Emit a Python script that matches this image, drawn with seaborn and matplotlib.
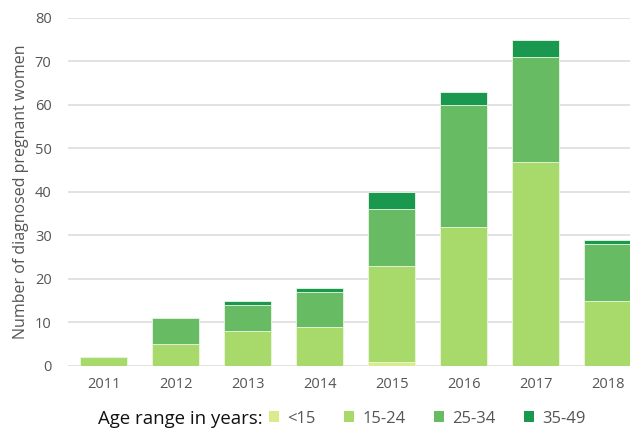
import numpy as np
import pandas as pd
import matplotlib
matplotlib.use("Agg")
import matplotlib.pyplot as plt
from matplotlib.patches import Patch
import seaborn as sns

years = ["2011", "2012", "2013", "2014", "2015", "2016", "2017", "2018"]
age_groups = ["<15", "15-24", "25-34", "35-49"]
under_15 = [0, 0, 0, 0, 1, 0, 0, 0]
age_15_24 = [2, 5, 8, 9, 22, 32, 47, 15]
age_25_34 = [0, 6, 6, 8, 13, 28, 24, 13]
age_35_49 = [0, 0, 1, 1, 4, 3, 4, 1]
colors = ["#d9ec8c", "#a8d96b", "#66bb63", "#1a9850"]

df = pd.DataFrame({"Year": years, "<15": under_15, "15-24": age_15_24,
                   "25-34": age_25_34, "35-49": age_35_49})
cum = df[age_groups].cumsum(axis=1)

sns.set_theme(style="white")
plt.rcParams["font.family"] = ["Open Sans", "DejaVu Sans"]

fig, ax = plt.subplots(figsize=(6.32, 4.28), dpi=100)
fig.subplots_adjust(left=0.108, right=0.997, top=0.958, bottom=0.145)

# stacked bars: draw cumulative totals from the top group down
for grp, col in reversed(list(zip(age_groups, colors))):
    sns.barplot(x=df["Year"], y=cum[grp], color=col, width=0.65, saturation=1,
                edgecolor="#eef6e6", linewidth=0.6, ax=ax, zorder=3)

ax.set_ylim(0, 80)
ax.set_yticks(range(0, 81, 10))
ax.set_xlim(-0.49, 7.31)
ax.grid(axis="y", color="#dddddd", linewidth=1.2, zorder=0)
ax.set_axisbelow(True)
sns.despine(ax=ax, left=True, bottom=True)
ax.tick_params(axis="both", length=0, labelsize=10.5, labelcolor="#555555")
ax.tick_params(axis="x", pad=8)
ax.tick_params(axis="y", pad=12)
ax.set_xlabel("")
ax.set_ylabel("Number of diagnosed pregnant women", fontsize=11.5,
              color="#555555", labelpad=4)

fig.text(0.155, 0.02, "Age range in years:", fontsize=13.4, color="#111111",
         ha="left", va="center")
handles = [Patch(facecolor=c, edgecolor="none") for c in colors]
fig.legend(handles, age_groups, loc="center left", bbox_to_anchor=(0.402, 0.022),
           ncol=4, frameon=False, fontsize=12, handlelength=0.6, handleheight=0.6,
           handletextpad=0.5, columnspacing=1.7, labelcolor="#555555")

fig.savefig("out.png", dpi=100)
